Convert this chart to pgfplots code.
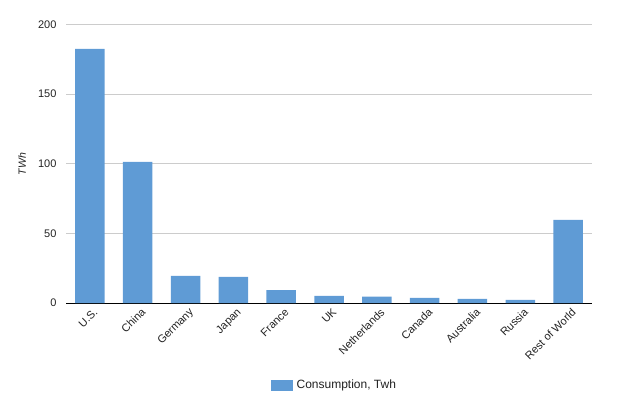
\documentclass[border=0pt]{standalone}
\usepackage{pgfplots}
\pgfplotsset{compat=1.18}
\usepackage{fontspec}
\setmainfont{Liberation Sans}
\definecolor{barblue}{RGB}{95,155,213}
\definecolor{gridgray}{RGB}{204,204,204}
\definecolor{txt}{RGB}{34,34,34}
\begin{document}
\begin{tikzpicture}[x=1bp,y=1bp]
\path[use as bounding box] (0,0) rectangle (641,394);
\begin{axis}[
  at={(66bp,91bp)}, anchor=south west,
  scale only axis, width=526bp, height=278.7bp,
  xmin=-0.5, xmax=10.5, ymin=0, ymax=200,
  ytick={0,50,100,150,200},
  xtick=data,
  xticklabels={U.S.,China,Germany,Japan,France,UK,Netherlands,Canada,Australia,Russia,Rest of World},
  xticklabel style={rotate=45, anchor=north east, inner sep=1pt, font=\fontsize{11bp}{12bp}\selectfont, text=txt, yshift=-4bp},
  yticklabel style={font=\fontsize{11bp}{12bp}\selectfont, text=txt, xshift=-6bp},
  /pgf/number format/assume math mode=true,
  ymajorgrids, grid style={gridgray, line width=0.8bp},
  axis x line*=bottom, axis y line*=left,
  y axis line style={draw=none},
  x axis line style={black, line width=1bp, -},
  major tick length=0pt,
  ylabel={\textit{TWh}},
  ylabel style={font=\fontsize{10.5bp}{12bp}\selectfont, text=txt, at={(axis description cs:-0.0837,0.499)}, anchor=center},
  legend style={at={(0.383,-0.262)}, anchor=north west, draw=none, font=\fontsize{12bp}{13bp}\selectfont, text=txt, legend cell align=left},
]
\addplot[ybar, bar width=29.5bp, fill=barblue, draw=none,
  legend image code/.code={\fill[barblue] (0bp,-5.5bp) rectangle (22bp,5.5bp);}] coordinates {
(0,182.3) (1,101.2) (2,19.4) (3,18.7) (4,9.3) (5,5.2) (6,4.5) (7,3.6) (8,2.9) (9,2.2) (10,59.6)
};
\addlegendentry{\hspace{2bp}Consumption, Twh}
\end{axis}
\end{tikzpicture}
\end{document}
